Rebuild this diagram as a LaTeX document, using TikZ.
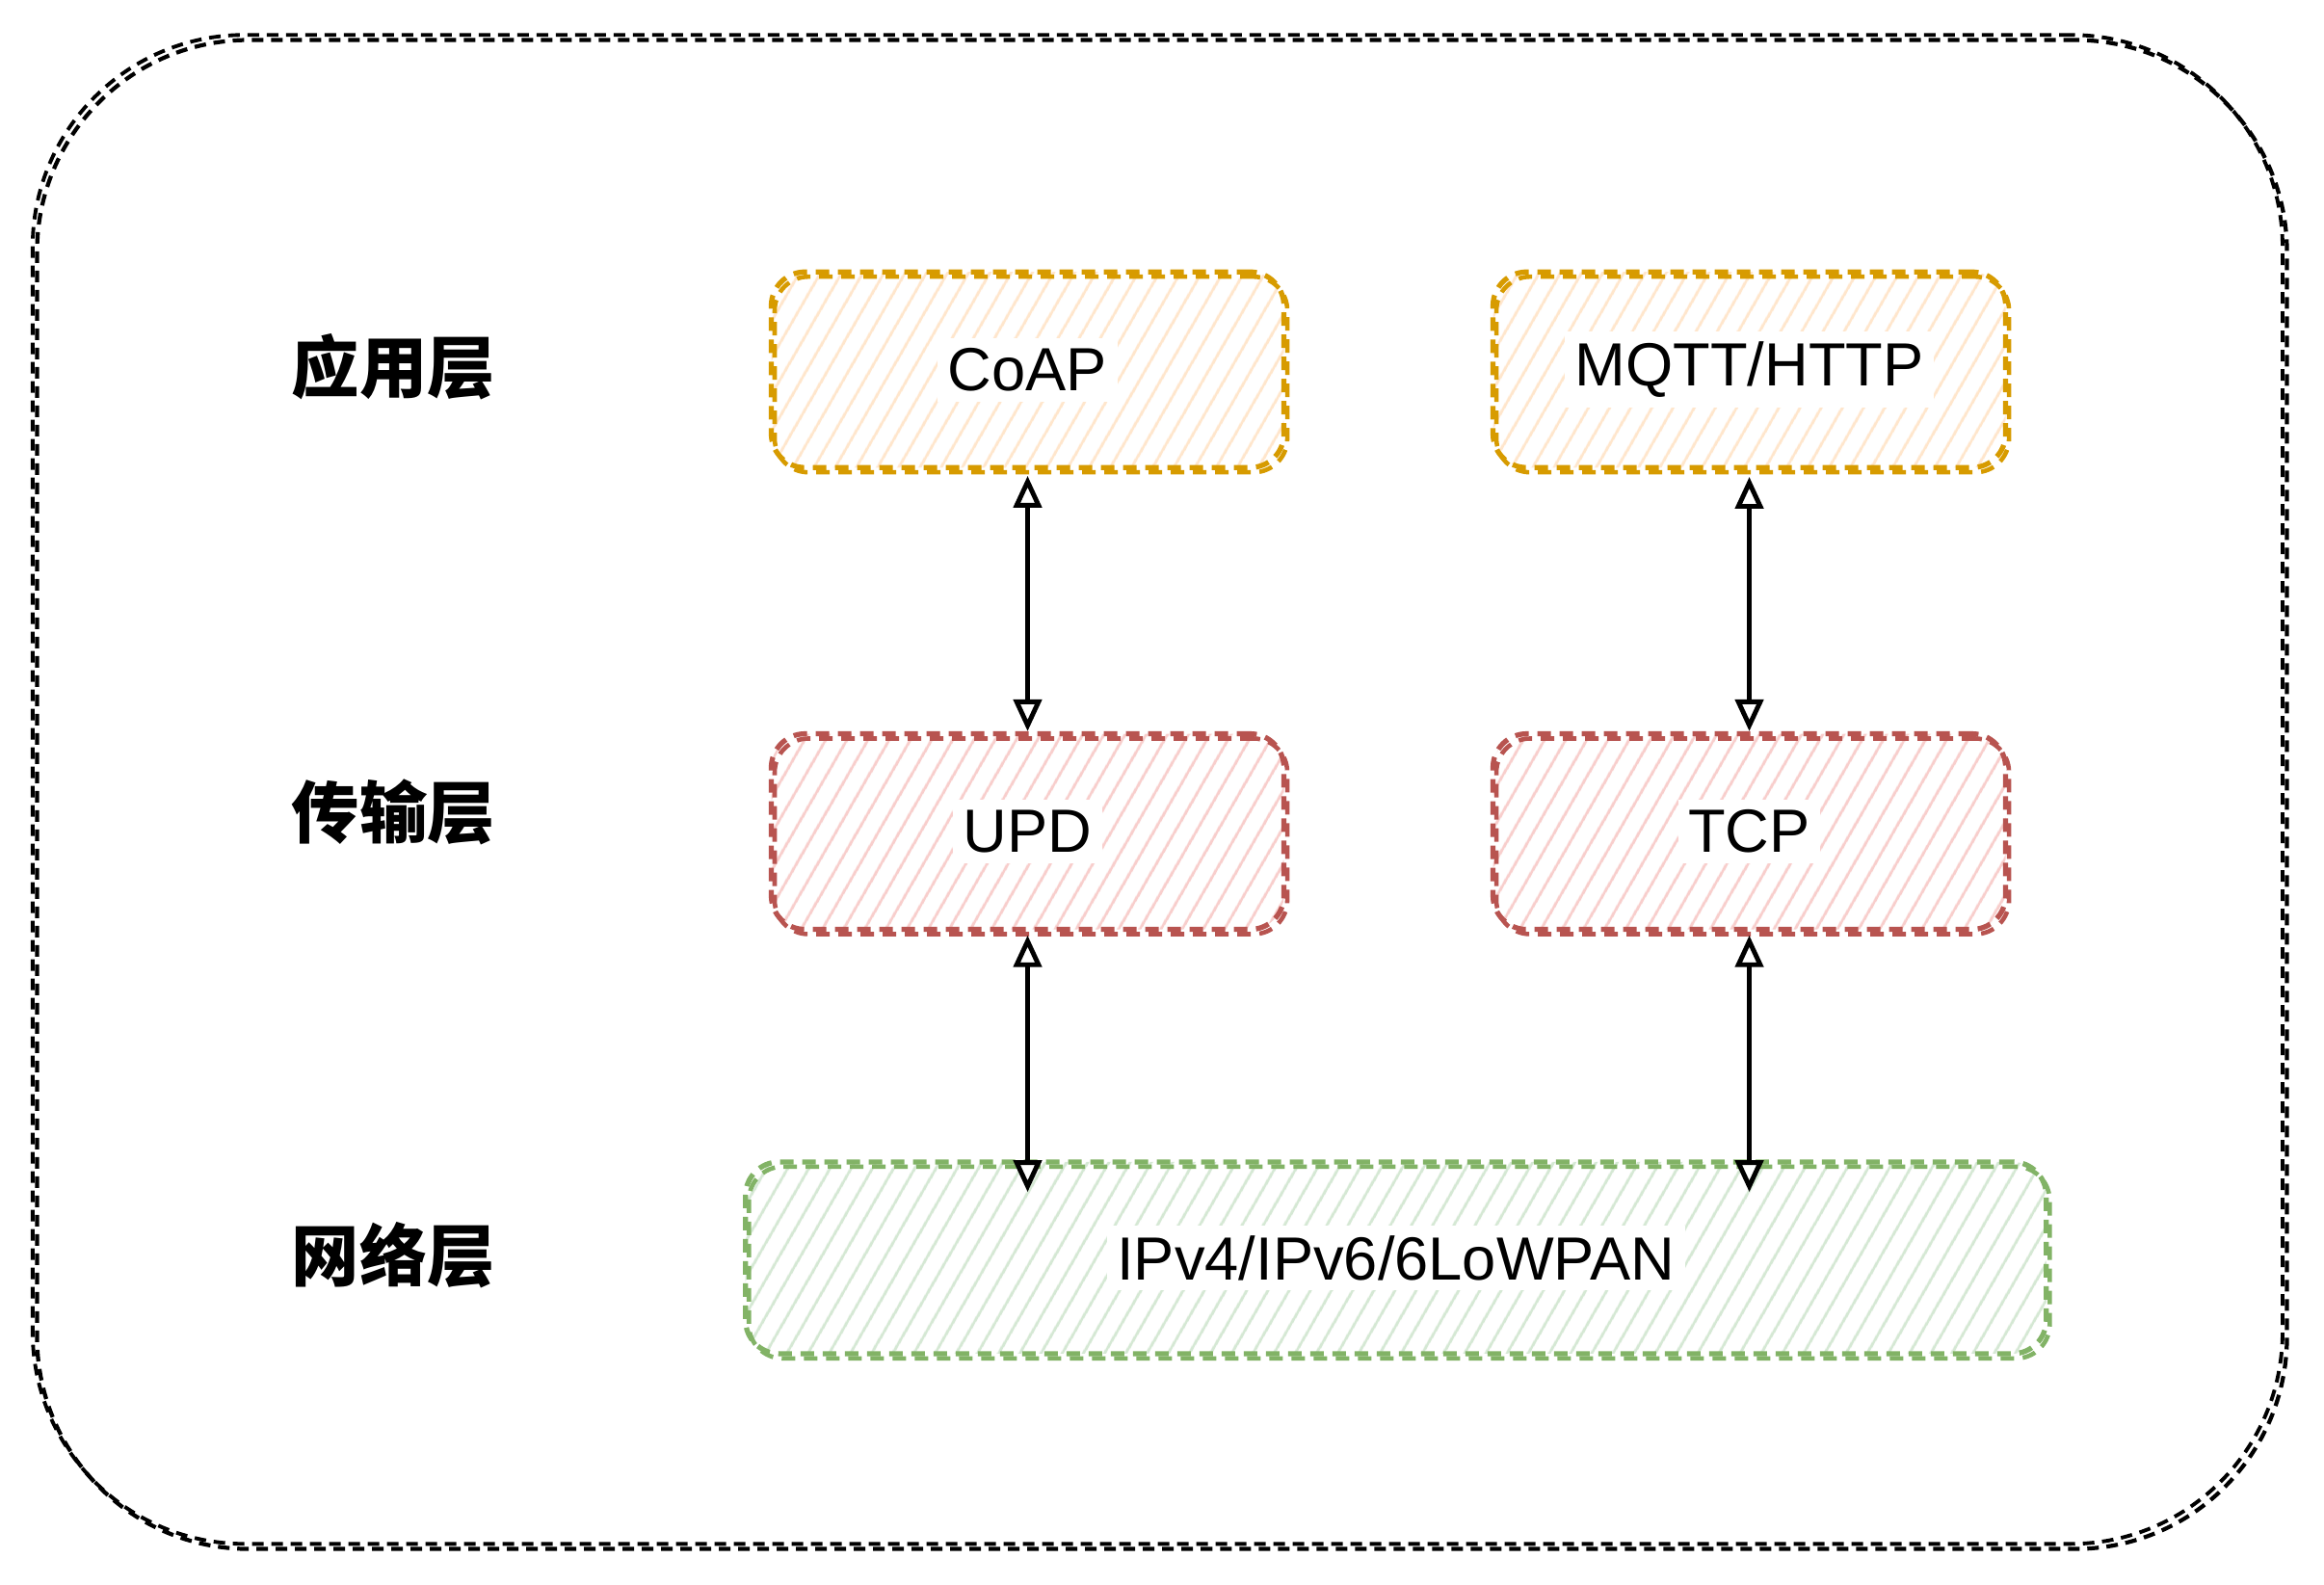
\documentclass[tikz,border=0pt]{standalone}
\usepackage{fontspec}
\setmainfont{Liberation Sans}
\newfontfamily\cjkfont{Noto Sans CJK SC}
\usetikzlibrary{arrows.meta,patterns.meta,calc}
\definecolor{appfill}{HTML}{FFE6CC}
\definecolor{appline}{HTML}{D79B00}
\definecolor{trafill}{HTML}{F8CECC}
\definecolor{traline}{HTML}{B85450}
\definecolor{netfill}{HTML}{D5E8D4}
\definecolor{netline}{HTML}{82B366}
\tikzset{
  boxbase/.style={rounded corners=0.35cm, line width=1.5pt,
    dash pattern=on 1.4mm off 0.9mm,
    minimum width=5.32cm, minimum height=2.03cm, inner sep=0pt,
    pattern={Lines[angle=60,distance=1.9mm,line width=0.9pt]}},
  sketch/.style={postaction={draw=#1, line width=1.3pt, dash pattern=on 1.4mm off 0.9mm,
    rounded corners=0.35cm, transform canvas={shift={(1pt,-1.4pt)}}}},
  appbox/.style={boxbase, draw=appline, pattern color=appfill, sketch=appline},
  trabox/.style={boxbase, draw=traline, pattern color=trafill, sketch=traline},
  netbox/.style={boxbase, draw=netline, pattern color=netfill, sketch=netline},
  boxtext/.style={fill=white, inner sep=3pt, font=\fontsize{18}{22}\selectfont},
  layer/.style={font=\cjkfont\bfseries\fontsize{20}{24}\selectfont},
  conn/.style={line width=1.4pt, black,
    {Triangle[open,length=3.3mm,width=2.9mm,fill=white]}-{Triangle[open,length=3.3mm,width=2.9mm,fill=white]}},
  frame/.style={draw=black, line width=1.2pt, dash pattern=on 1.2mm off 0.8mm,
    rounded corners=2.2cm, minimum width=23.35cm, minimum height=15.66cm,
    postaction={draw=black, line width=1.1pt, dash pattern=on 1.2mm off 0.8mm,
      rounded corners=2.2cm, transform canvas={shift={(-1.3pt,1.5pt)}}}}
}
\begin{document}
\begin{tikzpicture}[x=0.01541cm, y=-0.01541cm]
\path[use as bounding box, fill=white] (0,0) rectangle (1565,1067);
\node[frame] (outer) at (782.5,535) {};

\node[layer] (l1) at (265,247) {应用层};
\node[layer] (l2) at (265,547) {传输层};
\node[layer] (l3) at (265,845) {网络层};

\node[appbox, label={[boxtext]center:CoAP}] (coap) at (692,249) {};
\node[appbox, label={[boxtext]center:MQTT/HTTP}] (mqtt) at (1178,249) {};
\node[trabox, label={[boxtext]center:UPD}] (upd) at (692,560) {};
\node[trabox, label={[boxtext]center:TCP}] (tcp) at (1178,560) {};
\node[netbox, minimum width=13.5cm, minimum height=1.99cm,
      label={[boxtext]center:IPv4/IPv6/6LoWPAN}] (net) at (940,847) {};

\coordinate (updin) at ($(upd.south |- net.north)+(0,22)$);
\coordinate (tcpin) at ($(tcp.south |- net.north)+(0,22)$);

\draw[conn] ([yshift=-2pt]coap.south) -- (upd.north);
\draw[conn] ([yshift=-2pt]mqtt.south) -- (tcp.north);
\draw[conn] ([yshift=-1pt]upd.south) -- (updin);
\draw[conn] ([yshift=-1pt]tcp.south) -- (tcpin);
\end{tikzpicture}
\end{document}
